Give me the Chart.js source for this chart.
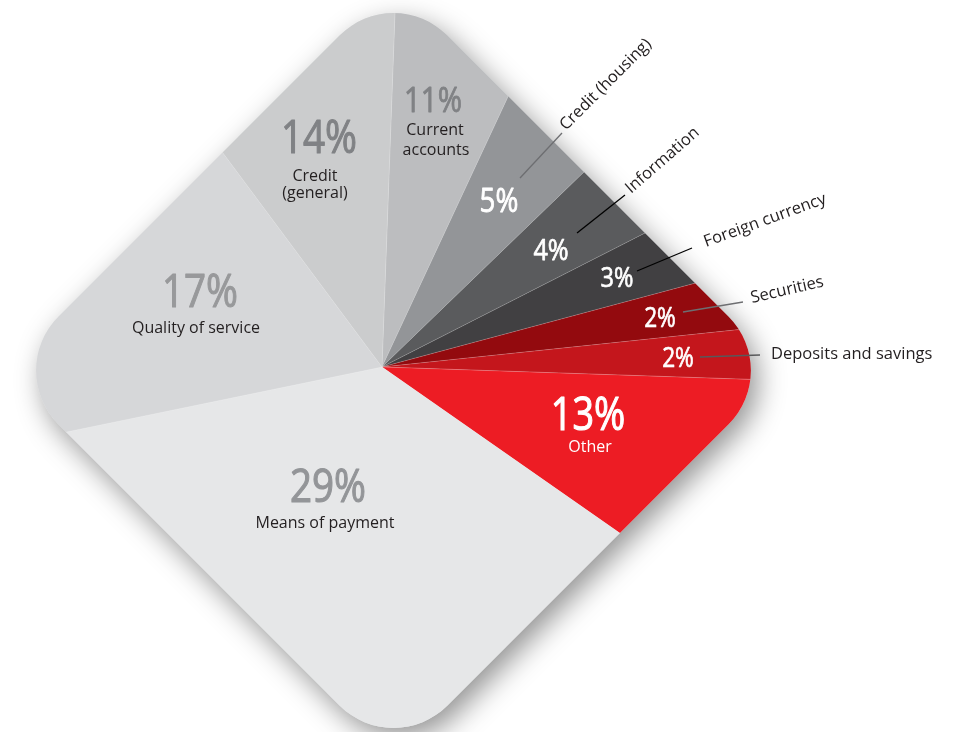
<!DOCTYPE html>
<html>
<head>
<meta charset="utf-8">
<script src="https://cdn.jsdelivr.net/npm/chart.js@4.4.1/dist/chart.umd.min.js"></script>
<style>
  html, body { margin: 0; padding: 0; background: #fff; overflow: hidden; }
  #wrap { width: 956px; height: 732px; position: relative; }
</style>
</head>
<body>
<div id="wrap"><canvas id="complaintsChart" width="956" height="732"></canvas></div>
<script>
// Complaint categories, clockwise from the top
const categories = ['Current accounts', 'Credit (housing)', 'Information', 'Foreign currency', 'Securities',
    'Deposits and savings', 'Other', 'Means of payment', 'Quality of service', 'Credit (general)'];
// Printed percentages
const pctLabels = ['11%', '5%', '4%', '3%', '2%', '2%', '13%', '29%', '17%', '14%'];
// Slice sizes as drawn in the picture (degrees of arc)
const drawnShare = [22.9, 21, 17, 12, 9, 7.9, 33, 133.4, 65, 38.7];
const sliceColors = ['#bcbdbf', '#939598', '#5a5b5d', '#414042', '#930a0e',
    '#c4161c', '#ed1c24', '#e6e7e8', '#d6d7d9', '#cbcccd'];

// Label placement (page pixels), kept apart from the data
const innerLabels = [
    { pct: [433, 112, 35, '#808285'], lines: [['Current', 435, 135], ['accounts', 436, 155]], color: '#231f20' },
    { pct: [499, 212, 33, '#ffffff'] },
    { pct: [551, 260, 30, '#ffffff'] },
    { pct: [617, 287, 28, '#ffffff'] },
    { pct: [660, 327, 27, '#ffffff'] },
    { pct: [678, 367, 27, '#ffffff'] },
    { pct: [588, 430, 45, '#ffffff'], lines: [['Other', 590, 452]], color: '#ffffff' },
    { pct: [328, 502, 46, '#939598'], lines: [['Means of payment', 325, 528]], color: '#231f20' },
    { pct: [200, 307, 46, '#98999b'], lines: [['Quality of service', 196, 333]], color: '#231f20' },
    { pct: [319, 153, 46, '#808285'], lines: [['Credit', 315, 181], ['(general)', 315, 198]], color: '#231f20' }
];
// Outside labels with leader lines: index into categories, text start, angle, leader
const outerLabels = [
    { idx: 1, x: 566, y: 131, angle: -45, leader: [520, 178, 562, 133], stroke: '#6d6e71' },
    { idx: 2, x: 631, y: 194, angle: -41, leader: [577, 233, 625, 195], stroke: '#000000' },
    { idx: 3, x: 706, y: 247, angle: -20, leader: [637, 271, 692, 248], stroke: '#000000' },
    { idx: 4, x: 752, y: 303, angle: -13, leader: [683, 312, 743, 302], stroke: '#6d6e71' },
    { idx: 5, x: 771, y: 359, angle: 0, leader: [700, 357, 760, 355], stroke: '#58595b' }
];

const FONT = '"Open Sans", "Noto Sans", sans-serif';
const PCT_SQUEEZE = 0.84;

// Rounded diamond outline (square turned 45deg) that the pie is cut to
const diamond = { dx: 11.5, dy: 3.5, half: 275, corner: 76 };

function diamondPath(ctx, cx, cy) {
    const s = diamond.half, r = diamond.corner;
    ctx.save();
    ctx.translate(cx + diamond.dx, cy + diamond.dy);
    ctx.rotate(Math.PI / 4);
    ctx.beginPath();
    ctx.moveTo(-s + r, -s);
    ctx.arcTo(s, -s, s, s, r);
    ctx.arcTo(s, s, -s, s, r);
    ctx.arcTo(-s, s, -s, -s, r);
    ctx.arcTo(-s, -s, s, -s, r);
    ctx.closePath();
    ctx.restore();
}

const diamondClip = {
    id: 'diamondClip',
    beforeDatasetsDraw(chart) {
        const ctx = chart.ctx;
        const arc = chart.getDatasetMeta(0).data[0];
        // drop shadow
        ctx.save();
        diamondPath(ctx, arc.x, arc.y);
        ctx.shadowColor = 'rgba(0,0,0,0.42)';
        ctx.shadowBlur = 28;
        ctx.shadowOffsetX = 7;
        ctx.shadowOffsetY = 10;
        ctx.fillStyle = '#e6e7e8';
        ctx.fill();
        ctx.restore();
        // clip slices to the diamond
        ctx.save();
        diamondPath(ctx, arc.x, arc.y);
        ctx.clip();
    },
    afterDatasetsDraw(chart) {
        chart.ctx.restore();
    }
};

const sliceLabels = {
    id: 'sliceLabels',
    afterDraw(chart) {
        const ctx = chart.ctx;
        ctx.save();
        ctx.textAlign = 'center';
        ctx.textBaseline = 'alphabetic';
        innerLabels.forEach((lab, i) => {
            const [x, y, size, col] = lab.pct;
            // percentages: a touch narrower and heavier than regular Open Sans
            ctx.save();
            ctx.translate(x, y);
            ctx.scale(PCT_SQUEEZE, 1);
            ctx.font = '400 ' + size + 'px ' + FONT;
            ctx.fillStyle = col;
            ctx.strokeStyle = col;
            ctx.lineWidth = size / 40;
            ctx.lineJoin = 'round';
            ctx.fillText(pctLabels[i], 0, 0);
            ctx.strokeText(pctLabels[i], 0, 0);
            ctx.restore();
            (lab.lines || []).forEach(line => {
                ctx.font = '400 16px ' + FONT;
                ctx.fillStyle = lab.color;
                ctx.fillText(line[0], line[1], line[2]);
            });
        });

        outerLabels.forEach(lab => {
            const [x1, y1, x2, y2] = lab.leader;
            ctx.beginPath();
            ctx.moveTo(x1, y1);
            ctx.lineTo(x2, y2);
            ctx.lineWidth = 1.3;
            ctx.strokeStyle = lab.stroke;
            ctx.stroke();

            ctx.save();
            ctx.translate(lab.x, lab.y);
            ctx.rotate(lab.angle * Math.PI / 180);
            ctx.textAlign = 'left';
            ctx.font = '400 16.5px ' + FONT;
            ctx.fillStyle = '#231f20';
            ctx.fillText(categories[lab.idx], 0, 0);
            ctx.restore();
        });
        ctx.restore();
    }
};

new Chart(document.getElementById('complaintsChart'), {
    type: 'pie',
    data: {
        labels: categories,
        datasets: [{
            data: drawnShare,
            backgroundColor: sliceColors,
            borderColor: 'rgba(255,255,255,0.25)',
            borderWidth: 0.6,
            radius: 400,
            clip: false
        }]
    },
    options: {
        responsive: false,
        animation: false,
        rotation: 2.1,
        layout: { padding: { top: 2, right: 192, bottom: 0, left: 0 } },
        plugins: {
            legend: { display: false },
            tooltip: { enabled: false }
        }
    },
    plugins: [diamondClip, sliceLabels]
});
</script>
</body>
</html>
